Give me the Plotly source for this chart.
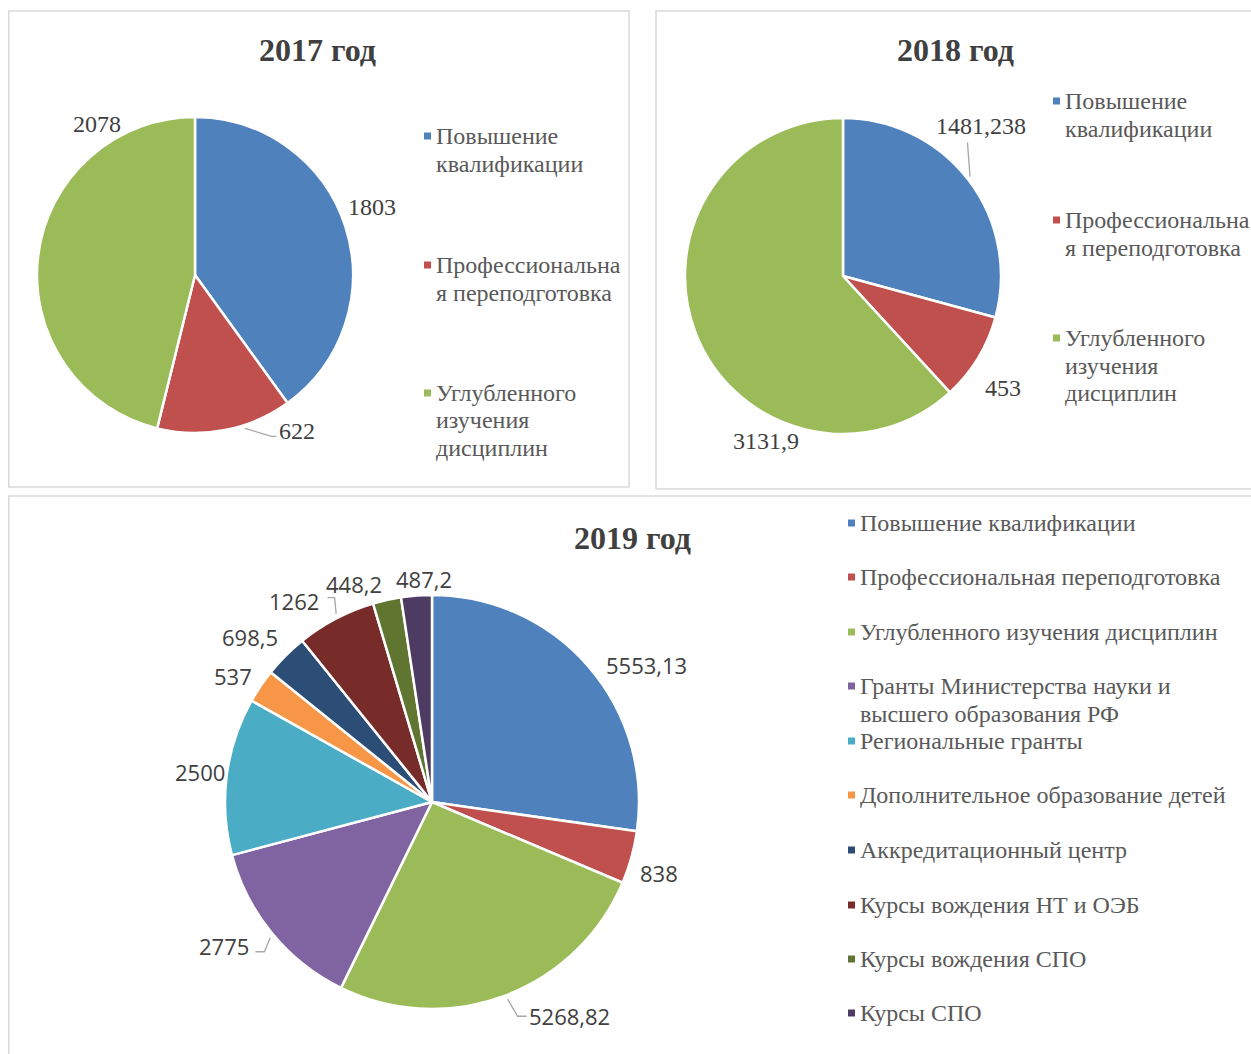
import math
import plotly.graph_objects as go

W, H = 1251, 1054
OX, OY = 0, 0
FW, FH = W, H

# ---------------- data ----------------
cats_3 = ["Повышение квалификации", "Профессиональная переподготовка",
          "Углубленного изучения дисциплин"]
vals_2017 = [1803, 622, 2078]
text_2017 = ["1803", "622", "2078"]
vals_2018 = [1481.238, 453, 3131.9]
text_2018 = ["1481,238", "453", "3131,9"]

cats_2019 = ["Повышение квалификации", "Профессиональная переподготовка",
             "Углубленного изучения дисциплин",
             "Гранты Министерства науки и высшего образования РФ",
             "Региональные гранты", "Дополнительное образование детей",
             "Аккредитационный центр", "Курсы вождения НТ и ОЭБ",
             "Курсы вождения СПО", "Курсы СПО"]
vals_2019 = [5553.13, 838, 5268.82, 2775, 2500, 537, 698.5, 1262, 448.2, 487.2]
text_2019 = ["5553,13", "838", "5268,82", "2775", "2500", "537", "698,5",
             "1262", "448,2", "487,2"]

legend_3 = [["Повышение", "квалификации"], ["Профессиональна", "я переподготовка"],
            ["Углубленного", "изучения", "дисциплин"]]
legend_2019 = [["Повышение квалификации"], ["Профессиональная переподготовка"],
               ["Углубленного изучения дисциплин"],
               ["Гранты Министерства науки и", "высшего образования РФ"],
               ["Региональные гранты"], ["Дополнительное образование детей"],
               ["Аккредитационный центр"], ["Курсы вождения НТ и ОЭБ"],
               ["Курсы вождения СПО"], ["Курсы СПО"]]

colors = ["#4F81BD", "#C0504D", "#9BBB59", "#8064A2", "#4BACC6", "#F79646",
          "#2C4D75", "#772C2A", "#5F7530", "#4D3B62"]

# ---------------- layout / style ----------------
SERIF = "Liberation Serif, Times New Roman, serif"
SANS = "Open Sans, Noto Sans, sans-serif"
TXT = "#404040"
LEG = "#595959"

charts = [
    dict(vals=vals_2017, text=text_2017, legend=legend_3, title="2017 год",
         cx=195, cy=275, r=158, title_xy=(318, 50), lab_font=SERIF, lab_size=24,
         lab_pos=[(69, 1.20), (147, 1.18), (327, 1.14)],
         leaders={1: dict(arc=162, mid=(-25, 5), end=(-20, 5))},
         leg_x=424, leg_y=[136, 265, 393], rect=(8.75, 11, 629, 487)),
    dict(vals=vals_2018, text=text_2018, legend=legend_3, title="2018 год",
         cx=843, cy=276, r=158, title_xy=(956, 50), lab_font=SERIF, lab_size=24,
         lab_pos=[(42.8, 1.29), (125, 1.24), (205, 1.15)],
         leaders={0: dict(arc=52, mid=(-14, 16), end=(-14, 16))},
         leg_x=1053, leg_y=[101, 220, 338], rect=(656, 11, 1256, 489)),
    dict(vals=vals_2019, text=text_2019, legend=legend_2019, title="2019 год",
         cx=432, cy=802, r=207, title_xy=(632, 538), lab_font=SANS, lab_size=22,
         lab_pos=[(57.5, 1.23), (107.4, 1.15), (147.3, 1.23), (235.3, 1.22),
                  (277.3, 1.13), (302.3, 1.14), (312.2, 1.19), (325.5, 1.18),
                  (340.4, 1.12), (358, 1.08)],
         leaders={2: dict(arc=159, mid=(-52, 0), end=(-43, 0)),
                  3: dict(arc=230, mid=(40, 6), end=(31, 6)),
                  7: dict(arc=333, mid=(41, -3), end=(34, -3))},
         leg_x=848, leg_y=[523, 577, 632, 686, 741, 795, 850, 905, 959, 1013],
         rect=(8.75, 496, 1256, 1070)),
]
LINE_STEP = 27.5


def px(x, y):
    return (x - OX) / FW, 1 - (y - OY) / FH


fig = go.Figure()
shapes = []
annotations = []

for ch in charts:
    cx, cy, r = ch["cx"], ch["cy"], ch["r"]
    n = len(ch["vals"])
    x0, y0, x1, y1 = ch["rect"]
    X0, Y1 = px(x0, y0)
    X1, Y0 = px(x1, y1)
    shapes.append(dict(type="rect", xref="paper", yref="paper",
                       x0=X0, x1=X1, y0=Y0, y1=Y1,
                       line=dict(color="#D9D9D9", width=1.5), fillcolor="rgba(0,0,0,0)",
                       layer="below"))
    dx0, dy1 = px(cx - r, cy - r)
    dx1, dy0 = px(cx + r, cy + r)
    fig.add_trace(go.Pie(
        values=ch["vals"], labels=cats_2019 if n == 10 else cats_3,
        sort=False, direction="clockwise", rotation=0,
        marker=dict(colors=colors[:n], line=dict(color="white", width=2.5)),
        textinfo="none", showlegend=False,
        domain=dict(x=[dx0, dx1], y=[dy0, dy1]),
        hovertemplate="%{label}: %{value}<extra></extra>"))
    tx, ty = ch["title_xy"]
    ax, ay = px(tx, ty)
    annotations.append(dict(text="<b>" + ch["title"] + "</b>", x=ax, y=ay, xref="paper",
                            yref="paper", showarrow=False, xanchor="center", yanchor="middle",
                            font=dict(family=SERIF, size=32, color=TXT)))
    for i, (ang, fac) in enumerate(ch["lab_pos"]):
        a = math.radians(ang)
        lx = cx + r * fac * math.sin(a)
        ly = cy - r * fac * math.cos(a)
        X, Y = px(lx, ly)
        annotations.append(dict(text=ch["text"][i], x=X, y=Y, xref="paper", yref="paper",
                                showarrow=False, xanchor="center", yanchor="middle",
                                font=dict(family=ch["lab_font"], size=ch["lab_size"], color=TXT)))
        if i in ch["leaders"]:
            ld = ch["leaders"][i]
            b = math.radians(ld["arc"])
            sx = cx + r * 1.02 * math.sin(b)
            sy = cy - r * 1.02 * math.cos(b)
            pts = [(sx, sy), (lx + ld["mid"][0], ly + ld["mid"][1]),
                   (lx + ld["end"][0], ly + ld["end"][1])]
            path = "M " + " L ".join("%.5f,%.5f" % px(*p) for p in pts)
            shapes.append(dict(type="path", xref="paper", yref="paper", path=path,
                               line=dict(color="#A6A6A6", width=1.3)))
    for i, (lines, ly) in enumerate(zip(ch["legend"], ch["leg_y"])):
        mx = ch["leg_x"]
        mx0, my1 = px(mx, ly - 3.5)
        mx1, my0 = px(mx + 7, ly + 3.5)
        shapes.append(dict(type="rect", xref="paper", yref="paper",
                           x0=mx0, x1=mx1, y0=my0, y1=my1,
                           fillcolor=colors[i], line=dict(width=0)))
        for k, line in enumerate(lines):
            X, Y = px(mx + 10, ly + k * LINE_STEP)
            annotations.append(dict(text=line, x=X, y=Y, xref="paper", yref="paper",
                                    showarrow=False, xanchor="left", yanchor="middle",
                                    font=dict(family=SERIF, size=24, color=LEG)))

fig.update_layout(width=FW, height=FH, margin=dict(l=0, r=0, t=0, b=0),
                  paper_bgcolor="white", plot_bgcolor="white",
                  shapes=shapes, annotations=annotations, showlegend=False)
fig.write_html("out.html", config={"displayModeBar": False},
               post_script="document.body.style.margin='0';document.body.style.overflow='hidden';")
